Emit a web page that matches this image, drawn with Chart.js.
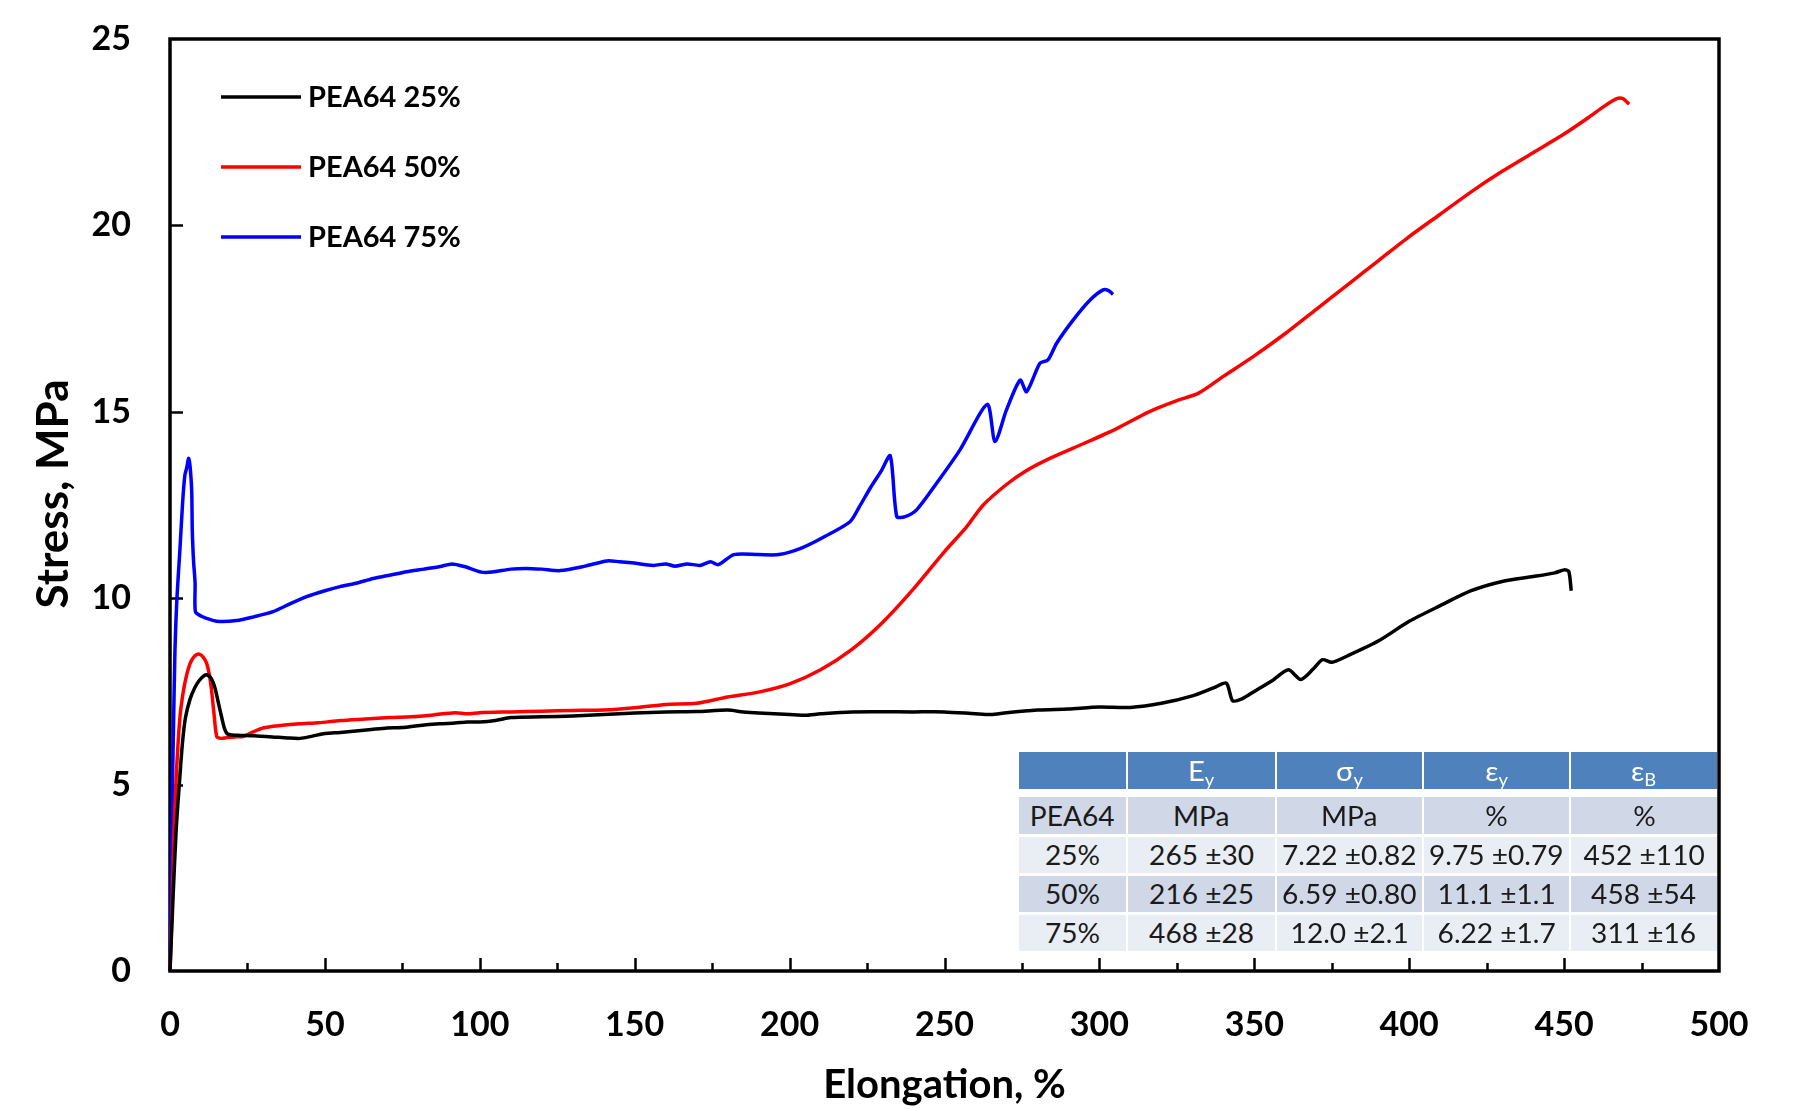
<!DOCTYPE html>
<html>
<head>
<meta charset="utf-8">
<script src="https://cdn.jsdelivr.net/npm/chart.js@4/dist/chart.umd.min.js"></script>
<style>
  html, body { margin: 0; padding: 0; background: #fff; }
  #wrap { position: relative; width: 1797px; height: 1109px; }
  canvas { position: absolute; left: 0; top: 0; }
  .cell {
    position: absolute; box-sizing: border-box;
    display: flex; align-items: center; justify-content: center;
    font-family: Lato, "Noto Sans", sans-serif; font-size: 26px; color: #1a1a1a;
    white-space: nowrap;
  }
  .cell span { display: inline-block; transform: scaleX(1.08); }
  .cell sub { font-size: 17px; vertical-align: -5px; line-height: 0; }
  .hdr { background: #4F81BD; color: #fff; font-size: 27px; }
  .band1 { background: #D0D8E8; }
  .band2 { background: #E9EDF4; }
</style>
</head>
<body>
<div id="wrap">
  <canvas id="c" width="1797" height="1109"></canvas>
</div>
<script>
// Stress–strain curves, elongation (%) vs stress (MPa)
const pea25_x = [0,1,2,3,4,5,6.5,8,9.5,11,12,13.3,14.5,15.6,16.7,17.6,18.5,20,22.6,27,33,38,42,46,50,55,60,65,70,75,80,87,92,96,100,105,110,120,130,140,150,160,170,180,185,190,200,205,210,220,240,250,260,265,270,280,290,300,310,320,330,337,341,343,346,350,356,361,365,369,372,375,380,390,400,410,420,430,440,447,450,451.5,452.3];
const pea25_y = [0,2.0,3.8,5.0,6.1,6.8,7.3,7.6,7.8,7.92,7.94,7.85,7.6,7.2,6.8,6.5,6.36,6.33,6.32,6.31,6.28,6.25,6.24,6.3,6.37,6.4,6.44,6.48,6.52,6.53,6.58,6.63,6.65,6.68,6.68,6.72,6.8,6.82,6.84,6.88,6.92,6.95,6.96,7.0,6.95,6.92,6.88,6.86,6.9,6.95,6.95,6.95,6.9,6.88,6.93,7.0,7.03,7.08,7.07,7.18,7.38,7.6,7.72,7.25,7.3,7.5,7.8,8.08,7.82,8.1,8.35,8.28,8.45,8.85,9.38,9.8,10.2,10.45,10.58,10.68,10.76,10.72,10.2];

const pea50_x = [0,0.6,1.2,2,3.2,4.3,5.4,6.5,7.5,8.5,9.5,10.7,11.8,12.7,13.4,14.2,15.1,16.5,18.3,21,23.6,27,30,35,42,48,55,63,71,78,85,92,96,100,110,120,130,140,150,160,170,180,190,200,210,220,230,240,250,257,262.5,270,276,284,295,305.6,316,325,332,340,350,360,370,380,390,400,410,420,430,440,450,458,463,467,469,471];
const pea50_y = [0,1.5,3.5,5.2,6.8,7.5,7.95,8.25,8.4,8.48,8.5,8.42,8.26,7.95,7.54,6.9,6.29,6.24,6.26,6.28,6.29,6.42,6.52,6.58,6.63,6.66,6.72,6.76,6.8,6.82,6.87,6.93,6.9,6.93,6.95,6.97,6.99,7.0,7.06,7.15,7.18,7.35,7.48,7.7,8.08,8.62,9.35,10.25,11.25,11.9,12.5,13.05,13.4,13.75,14.15,14.55,15.0,15.3,15.5,15.95,16.5,17.1,17.75,18.4,19.05,19.7,20.3,20.9,21.45,21.95,22.45,22.9,23.2,23.4,23.4,23.25];

const pea75_x = [0,0.5,0.9,1.1,1.6,2.2,3.2,4.1,4.8,5.4,6.0,6.4,7.0,7.2,7.6,8.1,8.2,10,11.8,15.1,21.5,27,33.3,38,44.1,50,54.9,60,65.6,70,76.4,82,87.2,91,95,100.5,104,110,115,120,126,134,141,145,149,156,160,163,167,171,174.5,177,182,190,196.6,204,211.5,219.5,222.5,226,229.5,232.5,234.6,237.3,241,247.5,255,263.8,266.3,270,274.4,276.5,280.8,283.4,286.2,291.5,297,301.2,303,304.4];
const pea75_y = [0,3,5.5,6.4,8.6,9.95,11.3,12.6,13.3,13.5,13.75,13.6,12.9,11.8,11.0,10.4,9.64,9.52,9.46,9.38,9.4,9.5,9.64,9.82,10.04,10.2,10.31,10.4,10.53,10.6,10.71,10.78,10.85,10.92,10.85,10.7,10.7,10.78,10.8,10.78,10.74,10.86,11.0,10.98,10.95,10.88,10.92,10.86,10.92,10.88,10.98,10.9,11.17,11.17,11.17,11.35,11.66,12.05,12.45,12.95,13.4,13.82,12.19,12.19,12.37,13.09,13.98,15.2,14.2,15.05,15.85,15.54,16.3,16.39,16.84,17.46,18.0,18.27,18.25,18.15];

const seriesLabels = ['PEA64 25%', 'PEA64 50%', 'PEA64 75%'];
const seriesColors = ['#000000', '#FF0000', '#0000FF'];
const yAxisTitle = 'Stress, MPa';

// Property table
const tableHeader = [['', ''], ['E', 'y'], ['σ', 'y'], ['ε', 'y'], ['ε', 'B']];
const tableUnits = ['PEA64', 'MPa', 'MPa', '%', '%'];
const tableRows = [
  ['25%', '265 ±30', '7.22 ±0.82', '9.75 ±0.79', '452 ±110'],
  ['50%', '216 ±25', '6.59 ±0.80', '11.1 ±1.1', '458 ±54'],
  ['75%', '468 ±28', '12.0 ±2.1', '6.22 ±1.7', '311 ±16']
];

const xTickStep = 25;
const yTickStep = 5;

function toPoints(xs, ys) { return xs.map((x, i) => ({ x: x, y: ys[i] })); }

const FONT = 'Lato, "Open Sans", sans-serif';

// Frame around the plot area with inward ticks, plus the vertical axis title
const frameTicks = {
  id: 'frameTicks',
  beforeDatasetsDraw(chart) {
    const { ctx, chartArea: a, scales: { x, y } } = chart;
    ctx.save();
    ctx.strokeStyle = '#000';
    ctx.lineWidth = 2.5;
    for (let v = x.min + xTickStep; v < x.max; v += xTickStep) {
      const px = Math.round(x.getPixelForValue(v)) + 0.5;
      const len = (v % 50 === 0) ? 13 : 8;
      ctx.beginPath(); ctx.moveTo(px, a.bottom); ctx.lineTo(px, a.bottom - len); ctx.stroke();
    }
    for (let v = y.min + yTickStep; v < y.max; v += yTickStep) {
      const py = Math.round(y.getPixelForValue(v)) + 0.5;
      ctx.beginPath(); ctx.moveTo(a.left, py); ctx.lineTo(a.left + 13, py); ctx.stroke();
    }
    ctx.lineWidth = 3.5;
    ctx.strokeRect(a.left, a.top, a.right - a.left, a.bottom - a.top);

    ctx.translate(54, 494);
    ctx.rotate(-Math.PI / 2);
    ctx.font = 'bold 44px ' + FONT;
    ctx.fillStyle = '#000';
    ctx.textAlign = 'center';
    ctx.textBaseline = 'middle';
    ctx.fillText(yAxisTitle, 0, 0);
    ctx.restore();
  }
};

// Legend drawn inside the plot area
const innerLegend = {
  id: 'innerLegend',
  afterDatasetsDraw(chart) {
    const { ctx } = chart;
    ctx.save();
    ctx.font = 'bold 29px ' + FONT;
    ctx.textBaseline = 'middle';
    ctx.fillStyle = '#000';
    chart.data.datasets.forEach((ds, i) => {
      const yy = 97 + i * 70;
      ctx.strokeStyle = ds.borderColor;
      ctx.lineWidth = 3.5;
      ctx.beginPath(); ctx.moveTo(221, yy); ctx.lineTo(301, yy); ctx.stroke();
      ctx.fillText(ds.label, 308, yy + 1);
    });
    ctx.restore();
  }
};

const datasets = [
  toPoints(pea25_x, pea25_y),
  toPoints(pea50_x, pea50_y),
  toPoints(pea75_x, pea75_y)
].map((pts, i) => ({
  label: seriesLabels[i],
  data: pts,
  borderColor: seriesColors[i],
  backgroundColor: seriesColors[i],
  borderWidth: 3.5,
  showLine: true,
  pointRadius: 0,
  tension: 0.25,
  clip: 6
}));

const tickFont = { family: FONT, weight: 'bold', size: 34 };

new Chart(document.getElementById('c'), {
  type: 'scatter',
  data: { datasets: datasets },
  options: {
    responsive: false,
    animation: false,
    devicePixelRatio: 1,
    layout: { padding: { top: 39, right: 78, left: 0, bottom: 0 } },
    plugins: { legend: { display: false }, tooltip: { enabled: false } },
    scales: {
      x: {
        type: 'linear', min: 0, max: 500,
        ticks: { stepSize: 50, padding: 26, color: '#000', font: tickFont, maxRotation: 0 },
        grid: { display: false },
        border: { display: false },
        title: { display: true, text: 'Elongation, %', color: '#000', font: { family: FONT, weight: 'bold', size: 40 }, padding: { top: 0, bottom: 0 } },
        afterFit(s) { s.height = 138; s.paddingLeft = 0; s.paddingRight = 0; }
      },
      y: {
        type: 'linear', min: 0, max: 25,
        ticks: { stepSize: yTickStep, padding: 31, color: '#000', font: tickFont },
        grid: { display: false },
        border: { display: false },
        title: { display: false },
        afterFit(s) { s.width = 170; s.paddingTop = 0; s.paddingBottom = 0; }
      }
    }
  },
  plugins: [frameTicks, innerLegend]
});

// Build the property table over the lower right of the plot
(function buildTable() {
  const wrap = document.getElementById('wrap');
  const colLeft = [1019, 1128, 1277, 1424, 1571];
  const colWidth = [107, 147, 145, 145, 146];
  const rowTop = [752, 797, 837, 876, 915];
  const rowHeight = [37, 37, 36, 36, 36];
  const rows = [null, tableUnits].concat(tableRows);
  rows.forEach((row, r) => {
    for (let c = 0; c < 5; c++) {
      const d = document.createElement('div');
      d.className = 'cell ' + (r === 0 ? 'hdr' : (r % 2 === 1 ? 'band1' : 'band2'));
      d.style.left = colLeft[c] + 'px';
      d.style.top = rowTop[r] + 'px';
      d.style.width = colWidth[c] + 'px';
      d.style.height = rowHeight[r] + 'px';
      const span = document.createElement('span');
      if (r === 0) {
        const [main, sub] = tableHeader[c];
        span.textContent = main;
        if (sub) { const s = document.createElement('sub'); s.textContent = sub; span.appendChild(s); }
      } else {
        span.textContent = row[c];
      }
      d.appendChild(span);
      wrap.appendChild(d);
    }
  });
})();
</script>
</body>
</html>
